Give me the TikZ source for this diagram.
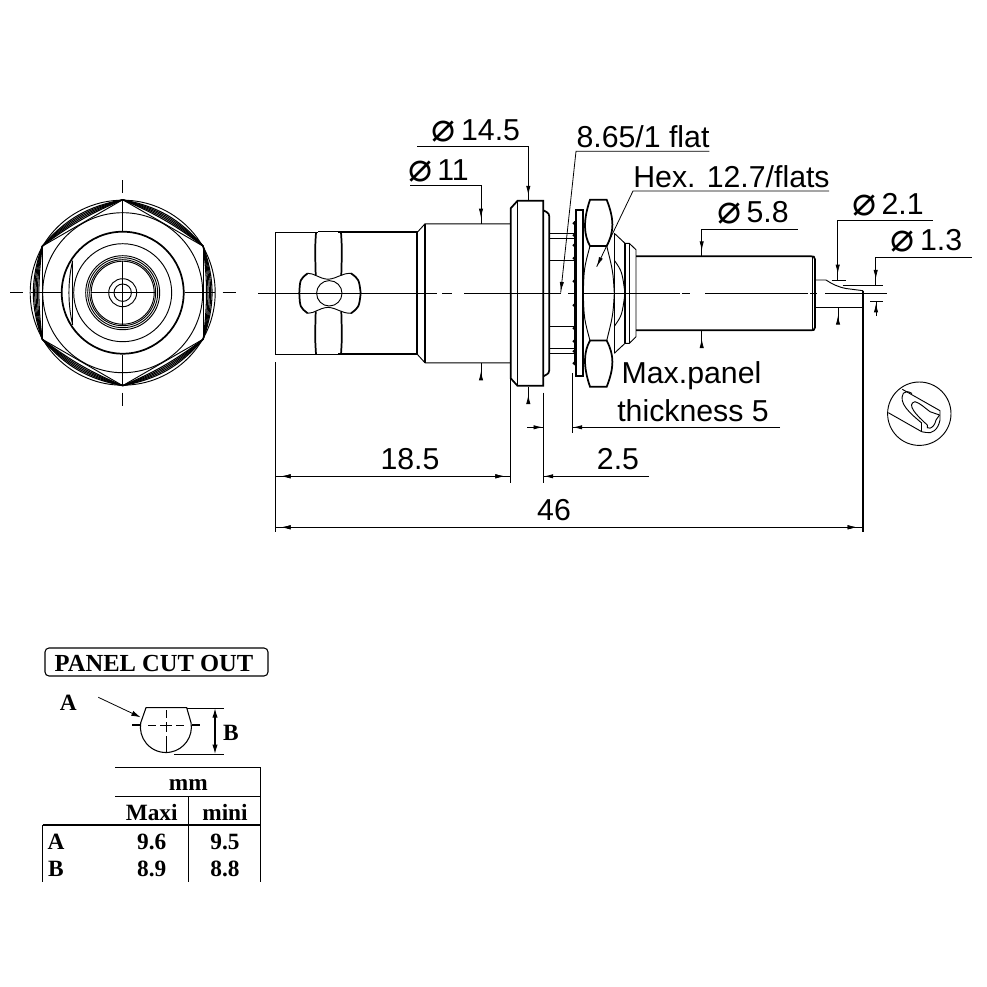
\documentclass[tikz,border=0pt]{standalone}
\usepackage{fontspec}
\setmainfont{Liberation Sans}
\newfontfamily\serifbold[BoldFont={Liberation Serif Bold}]{Liberation Serif}
\newfontfamily\diafont{DejaVu Sans}
\usetikzlibrary{arrows.meta,decorations.markings}
\newcommand{\dia}{\smash{\raisebox{-0.04em}{\diafont\fontsize{30}{30}\selectfont\char"2300}}}
\tikzset{
    thinline/.style={line width=0.7pt},
    thickline/.style={line width=1.3pt},
    dimline/.style={line width=0.6pt},
    tipend/.style={decoration={markings,mark=at position -#1 with {\arrow{Latex[length=7pt,width=3.2pt]}}},postaction=decorate},
    tipend/.default=4.5pt,
    tipstart/.style={decoration={markings,mark=at position #1 with {\arrowreversed{Latex[length=7pt,width=3.2pt]}}},postaction=decorate},
    tipstart/.default=4.5pt,
    dimtext/.style={inner sep=0pt,font=\fontsize{22.7}{26}\selectfont},
    tabletext/.style={inner sep=0pt,font=\serifbold\bfseries\fontsize{17.5}{20}\selectfont},
}
\begin{document}
\begin{tikzpicture}[x=0.75pt,y=-0.75pt,thinline]
    \useasboundingbox (0,0) rectangle (987,987);

    % front view
    \begin{scope}[shift={(122.7,292.7)}]
        \foreach \r in {92.5,80,49,37,35,33,31.5,14} {
                \draw (0,0) circle (\r);
            }
        \draw[thickline] (0,0) circle (61);
        \draw (0,0) circle (8.7);
        \draw (-50,-32) -- (-50,32);
        \draw (-50,-32) .. controls (-55,-12) and (-55,12) .. (-50,32);
        \foreach \a in {30,90,...,330} {
                \begin{scope}[rotate=\a]
                    \draw (-46.5,-80.5) -- (46.5,-80.5);
                    \foreach \b in {7,10,13,16,19} {
                            \draw[line width=0.8pt] (-46.5,-80.5) to[bend left=\b] (46.5,-80.5);
                        }
                \end{scope}
            }
        \foreach \a in {0,90,180,270} {
                \begin{scope}[rotate=\a]
                    \draw[dimline] (0,0) -- (32,0);
                    \draw[dimline] (62,0) -- (92,0);
                    \draw[dimline] (100,0) -- (113,0);
                \end{scope}
            }
    \end{scope}

    % side view, the two halves
    \foreach \s in {-1,1} {
            \begin{scope}[shift={(0,293.3)},yscale=\s]
                \draw (275.3,0) -- (275.3,61) -- (318,61);
                \draw[thickline] (338,61) -- (417.3,61) -- (417.3,0);
                \draw (417.3,61) -- (425,69.5) -- (510.7,69.5);
                \draw[thickline] (425,0) -- (425,69.5);
                \draw[thickline] (510.7,0) -- (510.7,85) -- (517.5,92.5) -- (543.3,92.5) -- (543.3,0);
                \draw (517.5,0) -- (517.5,92.5);
                \draw[thickline] (543.3,83) .. controls (549.3,80) .. (549.3,73) -- (549.3,0);
                \foreach \t in {33,55,60} {
                        \draw (549.3,\t) -- (574,\t);
                    }
                \foreach \t in {12,35,48,58,70} {
                        \draw[fill=white] (574.5,\t) circle (1.5);
                    }
                \draw (574,0) -- (574,72);
                \draw[thickline] (576,0) -- (576,83) -- (582.7,83) -- (582.7,0);
                % nut
                \draw[thickline] (590,47.3) .. controls (584,58) and (582.7,72) .. (590,93.5) -- (606.7,93.5) .. controls (614.3,74) and (614.3,62) .. (606.7,47.3) -- cycle;
                \draw (590,47.3) .. controls (584,25) .. (583.3,0);
                \draw (606.7,47.3) .. controls (613,22) .. (614.3,0);
                \draw (614.3,60) -- (625,50) -- (629.3,50) -- (636,43.5) -- (636,0);
                \draw (614.3,60) -- (614.3,0);
                \draw (614.3,33) .. controls (622,22) .. (625,0);
                \draw[thickline] (625,0) -- (625,50);
                \draw (629.3,0) -- (629.3,50);
                % shaft
                \draw[thickline] (636,37) -- (811,37) .. controls (814,37) .. (815,34) -- (815,0);
                \draw (812,0) -- (812,37);
                % bayonet stud
                \draw[thickline] (316,61) .. controls (315,45) .. (315.7,18);
                \draw[thickline] (341,61) .. controls (342,45) .. (341.3,18);
                \draw (318,61.5) -- (338,61.5);
                \draw (307.7,20) .. controls (315,20) and (318,15) .. (328,14);
                \draw[thickline] (307.7,20) .. controls (300,14) .. (299.3,0);
                \draw (351,20) .. controls (341,20) and (338,15) .. (328,14);
                \draw[thickline] (351,20) .. controls (359,14) .. (360.7,0);
            \end{scope}
        }
    \draw (329.3,293.3) circle (12.7);

    % centre line
    \foreach \i/\j in {258/437, 442/452, 464/561, 568/575, 583/680, 682/690, 705/808, 810/817, 825/887} {
            \draw[dimline] (\i,293.3) -- (\j,293.3);
        }

    % solder cup
    \draw (816,280) -- (826,280) .. controls (832,284) and (838,287) .. (846,288.5) -- (863,290.7);
    \draw (816,307.3) -- (863,307.3);
    \draw[dimline] (831.7,280) -- (845.7,280);
    \draw[dimline] (842.7,285.3) -- (883.3,285.3);
    \draw[dimline] (870,301.7) -- (882.7,301.7);

    % diameters and leaders
    \draw[dimline,tipend] (417,146.7) -- (528.3,146.7) -- (528.3,201.3);
    \draw[dimline,tipend] (410,185) -- (481,185) -- (481,224);
    \draw[dimline,tipend] (797.7,229.3) -- (701.7,229.3) -- (701.7,256.7);
    \draw[dimline,tipend] (932.7,220.7) -- (837.7,220.7) -- (837.7,280);
    \draw[dimline,tipend] (971.7,257.3) -- (875.7,257.3) -- (875.7,285.3);
    \draw[dimline,tipend=6pt] (481,380) -- (481,363);
    \draw[dimline,tipend=6pt] (528.3,403) -- (528.3,386.7);
    \draw[dimline,tipend=6pt] (701.7,347) -- (701.7,330.7);
    \draw[dimline,tipend=6pt] (838,323) -- (838,307.3);
    \draw[dimline,tipend=1pt] (876,316) -- (876,301.7);
    \draw[dimline,tipend=1pt] (709.3,151.3) -- (576,151.3) -- (560.7,292.7);
    \draw[dimline,tipend=0.3pt] (829,191) -- (633,191) -- (596.7,266.7);

    % extension lines and dimensions
    \draw[thinline] (275.3,362) -- (275.3,532);
    \draw[thinline] (510.7,378) -- (510.7,482.7);
    \draw[thinline] (543.3,392.7) -- (543.3,482.7);
    \draw[thinline] (572.3,373) -- (572.3,432.7);
    \draw[thickline] (863,290.7) -- (863,532);
    \draw[dimline,tipstart,tipend=4.5pt] (275.3,476.3) -- (510.7,476.3);
    \draw[dimline,tipend=0.3pt] (649,476.3) -- (543.3,476.3);
    \draw[dimline,tipend=0.3pt] (527,427.3) -- (543.3,427.3);
    \draw[dimline,tipend=0.3pt] (780,427.3) -- (572.3,427.3);
    \draw[dimline,tipstart,tipend=4.5pt] (275.3,527.3) -- (863,527.3);

    % labels
    \node[dimtext] (dia145) at (476,130) {\dia\,14.5};
    \node[dimtext] (dia11) at (438.5,170) {\dia\,11};
    \node[dimtext] (flat) at (643,137) {8.65/1 flat};
    \node[dimtext] (hex) at (731.5,177) {Hex. 12.7/flats};
    \node[dimtext] (dia58) at (753,212) {\dia\,5.8};
    \node[dimtext] (dia21) at (888,204) {\dia\,2.1};
    \node[dimtext] (dia13) at (926.5,240) {\dia\,1.3};
    \node[dimtext] (maxpanel) at (691.5,376) {Max.panel};
    \node[dimtext] (thick5) at (693,411) {thickness 5};
    \node[dimtext] (d185) at (410,459) {18.5};
    \node[dimtext] (d25) at (618,459) {2.5};
    \node[dimtext] (d46) at (554,510) {46};

    % cup detail
    \draw (919.3,413.7) circle (31.7);
    \draw (902.3,389.3) -- (940,410.7) -- (940,420) .. controls (938,430) and (932,434) .. (926,432.5) -- (921.7,431.7) -- (888.3,412.7);
    \draw (921.7,431.7) -- (921.7,423);
    \draw (921.7,423) .. controls (910,413.3) and (898,403) .. (903.3,393.3) .. controls (905,391) and (908,391) .. (912,393.5);
    \draw (927.3,425) .. controls (916,415) and (906,404) .. (915,401.7) .. controls (920,403) and (925,408) .. (930,411.7) -- (939.5,415);
    \draw (927.3,425) .. controls (925,430) and (934,430) .. (936,420) -- (939.5,415);

    % panel cut out
    \draw[line width=0.8pt,rounded corners=3pt] (45,648) rectangle (268,676);
    \node[inner sep=0pt,font=\serifbold\bfseries\fontsize{18.4}{20}\selectfont] (title) at (154,663) {PANEL CUT OUT};
    \node[tabletext] (labelA) at (68.3,703) {A};
    \draw[line width=0.8pt] (146,707.7) -- (186.7,707.7) -- (191,722.6) arc[start angle=-10,end angle=190,radius=25.5] -- cycle;
    \draw[dimline,-{Latex[length=7pt,width=4pt]}] (98.3,697.3) -- (140.7,717.3);
    \draw[thickline] (132,725) -- (140,725);
    \draw[thickline] (192,725) -- (200,725);
    \foreach \i/\j in {148/156, 160/172, 176/184} {
            \draw[dimline] (\i,725) -- (\j,725);
        }
    \foreach \i/\j in {710/718, 722/732, 736/753} {
            \draw[dimline] (166,\i) -- (166,\j);
        }
    \draw[dimline] (186.7,708.3) -- (224,708.3);
    \draw[dimline] (174,754) -- (224,754);
    \draw[line width=0.8pt,{Latex[length=7pt,width=4pt]}-{Latex[length=7pt,width=4pt]}] (215,708.3) -- (215,754);
    \node[tabletext] (labelB) at (231,733) {B};

    % table
    \draw[thinline] (115,767.3) -- (260.7,767.3) -- (260.7,881.7);
    \draw[thinline] (115,796.7) -- (260.7,796.7);
    \draw[thinline] (188.3,796.7) -- (188.3,881.7);
    \draw[thickline] (42.7,825) -- (260.7,825);
    \draw[thinline] (42.7,825) -- (42.7,881.7);
    \node[tabletext] (mm) at (188.3,785) {mm};
    \node[tabletext] (maxi) at (151.7,812.3) {Maxi};
    \node[tabletext] (mini) at (225,812.3) {mini};
    \foreach \n/\y/\a/\b in {A/841.5/9.6/9.5, B/869.3/8.9/8.8} {
            \node[tabletext] (row\n) at (56,\y) {\n};
            \node[tabletext] (max\n) at (151.7,\y) {\a};
            \node[tabletext] (min\n) at (225,\y) {\b};
        }
\end{tikzpicture}
\end{document}
